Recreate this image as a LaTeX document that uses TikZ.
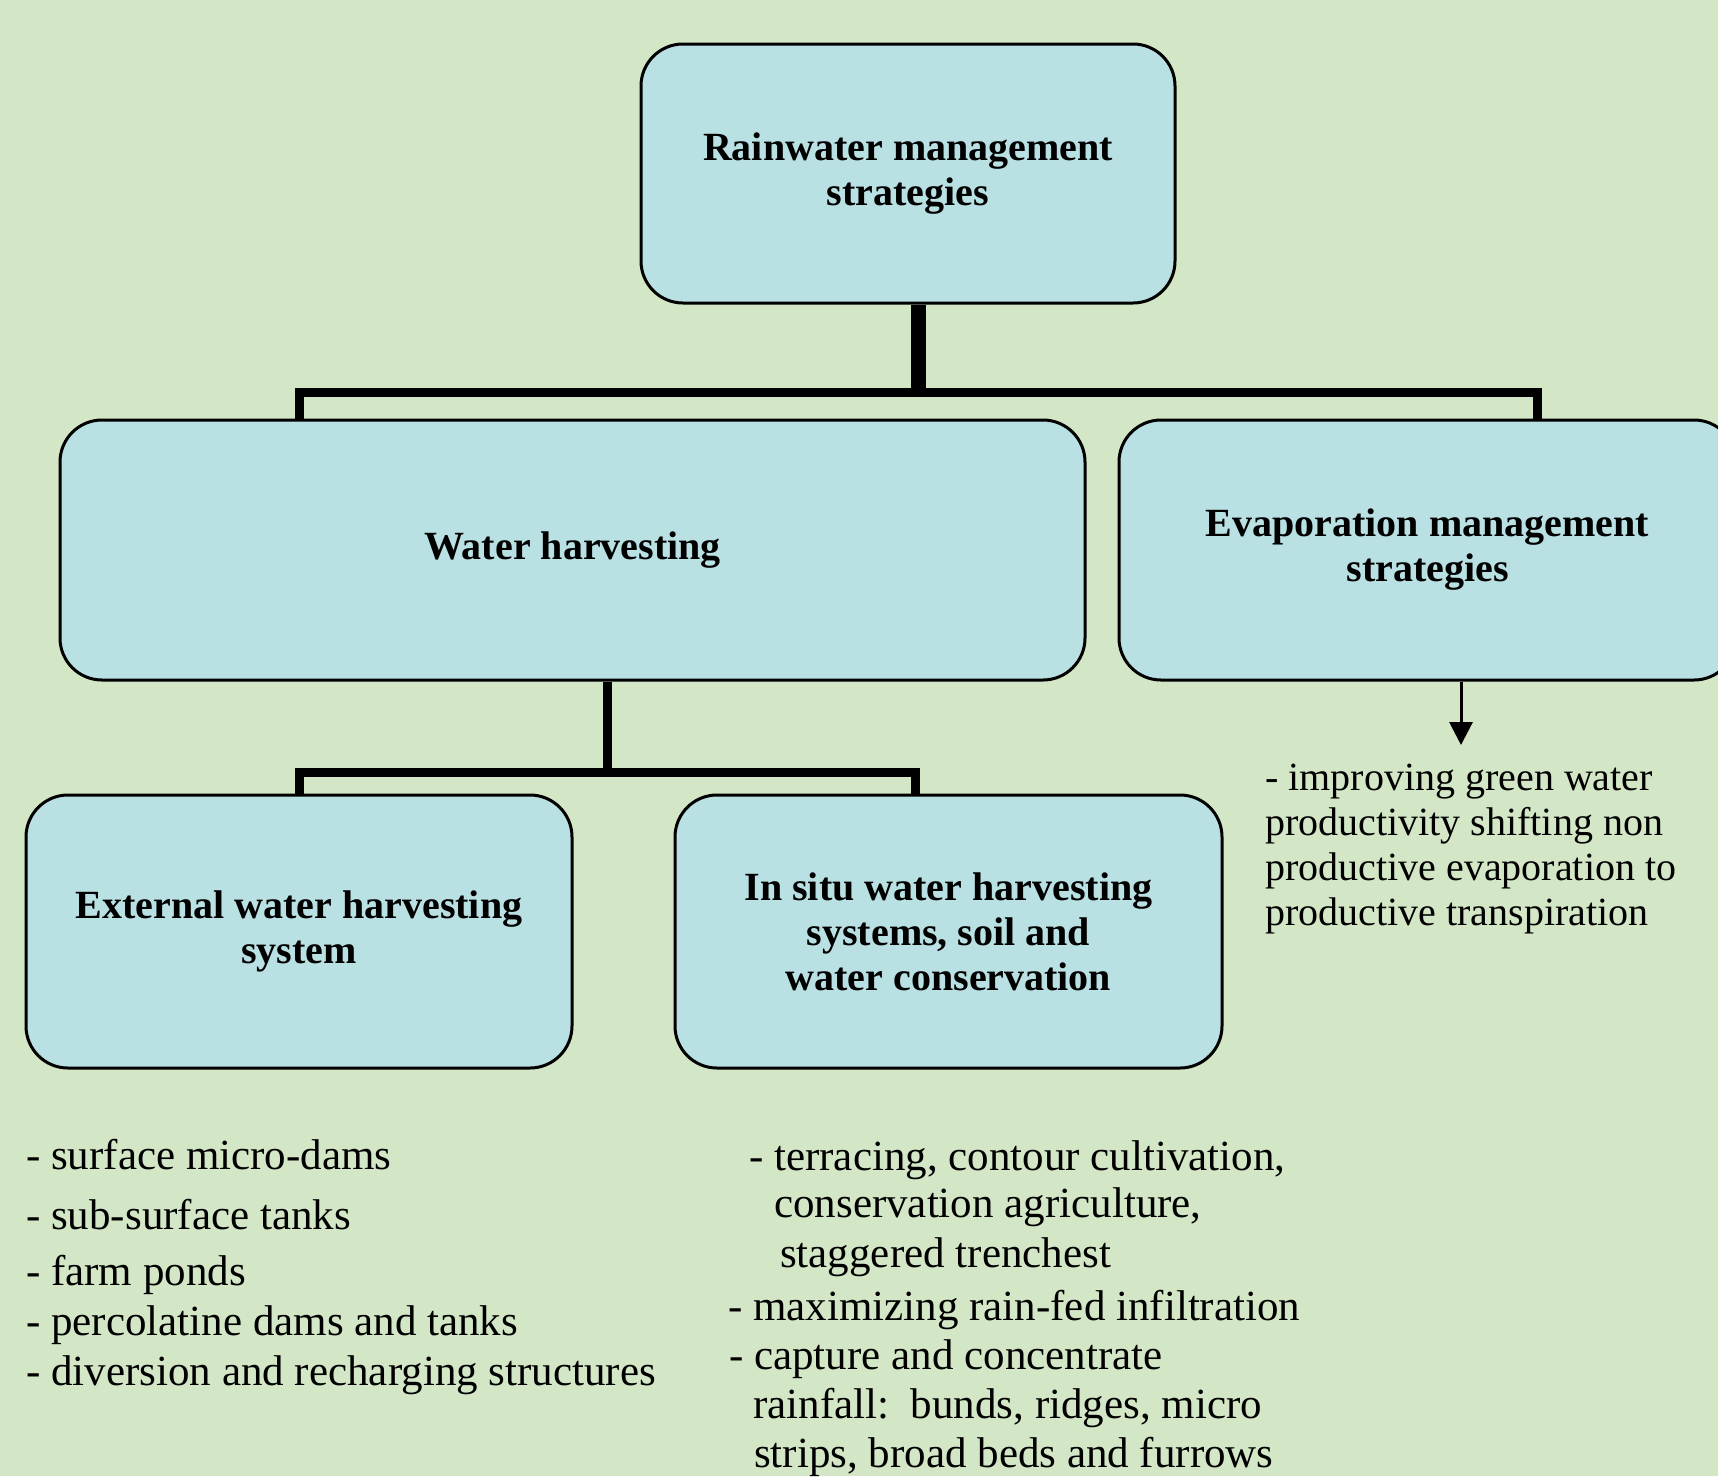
\documentclass[tikz,border=0pt]{standalone}
\usepackage{fontspec}
\setmainfont{Liberation Serif}
\usetikzlibrary{arrows.meta}
\definecolor{bgc}{RGB}{211,230,198}
\definecolor{boxc}{RGB}{185,224,226}
\tikzset{
  stratbox/.style={draw=black, line width=3pt, fill=boxc, rounded corners=42pt,
    align=center, inner sep=0pt, font=\fontsize{40}{45}\selectfont\bfseries},
  conn/.style={line width=9pt, line join=miter, line cap=butt},
  mainconn/.style={line width=15pt, line cap=butt},
  item/.style={anchor=base west, inner sep=0pt, font=\fontsize{43}{50}\selectfont},
  evitem/.style={anchor=base west, inner sep=0pt, font=\fontsize{40}{45}\selectfont},
}
\begin{document}
\begin{tikzpicture}[x=1pt, y=-1pt]
\fill[bgc] (0,0) rectangle (1718,1476);
\useasboundingbox (0,0) rectangle (1718,1476);
\clip (0,0) rectangle (1718,1476);

% boxes
\node[stratbox, minimum width=534pt, minimum height=259pt] (top) at (908,173.5) {Rainwater management\\strategies};
\node[stratbox, minimum width=1025pt, minimum height=260pt] (wh) at (572.5,550) {Water harvesting};
\node[stratbox, minimum width=617pt, minimum height=260pt] (evap) at (1427.5,550) {Evaporation management\\strategies};
\node[stratbox, minimum width=546pt, minimum height=273pt] (ext) at (299,931.5) {External water harvesting\\system};
\node[stratbox, minimum width=547pt, minimum height=273pt] (insitu) at (948.5,931.5) {In situ water harvesting\\systems, soil and\\water conservation};

% upper connectors
\coordinate (j1) at (918,392);
\coordinate (hl) at (299,392);
\coordinate (hr) at (1537,392);
\draw[conn] (hl |- wh.north) -- (hl) -- (hr) -- (hr |- evap.north);
\draw[mainconn] (top.south -| j1) -- ([yshift=4.5pt]j1);

% lower connectors
\coordinate (j2) at (607,772);
\coordinate (ll) at (299,772);
\coordinate (lr) at (915,772);
\draw[conn] (ll |- ext.north) -- (ll) -- (lr) -- (lr |- insitu.north);
\draw[conn] (wh.south -| j2) -- ([yshift=4pt]j2);

% evaporation arrow
\coordinate (arrEnd) at (1461,745);
\draw[line width=3pt, -{Triangle[width=23pt,length=23pt]}] (evap.south -| arrEnd) -- (arrEnd);

% evaporation text
\node[evitem] (e1) at (1265,790) {- improving green water};
\node[evitem] (e2) at (1265,835) {productivity shifting non};
\node[evitem] (e3) at (1265,880) {productive evaporation to};
\node[evitem] (e4) at (1265,925) {productive transpiration};

% external list
\node[item] (a1) at (26,1169) {- surface micro-dams};
\node[item] (a2) at (26,1229) {- sub-surface tanks};
\node[item] (a3) at (26,1285) {- farm ponds};
\node[item] (a4) at (26,1335) {- percolatine dams and tanks};
\node[item] (a5) at (26,1385) {- diversion and recharging structures};

% in situ list
\node[item] (b1) at (749,1170) {- terracing, contour cultivation,};
\node[item] (b2) at (774,1217) {conservation agriculture,};
\node[item] (b3) at (780,1267) {staggered trenchest};
\node[item] (b4) at (728,1320) {- maximizing rain-fed infiltration};
\node[item] (b5) at (729,1369) {- capture and concentrate};
\node[item] (b6) at (753,1418) {rainfall:\ \ bunds, ridges, micro};
\node[item] (b7) at (754,1467) {strips, broad beds and furrows};
\end{tikzpicture}
\end{document}
